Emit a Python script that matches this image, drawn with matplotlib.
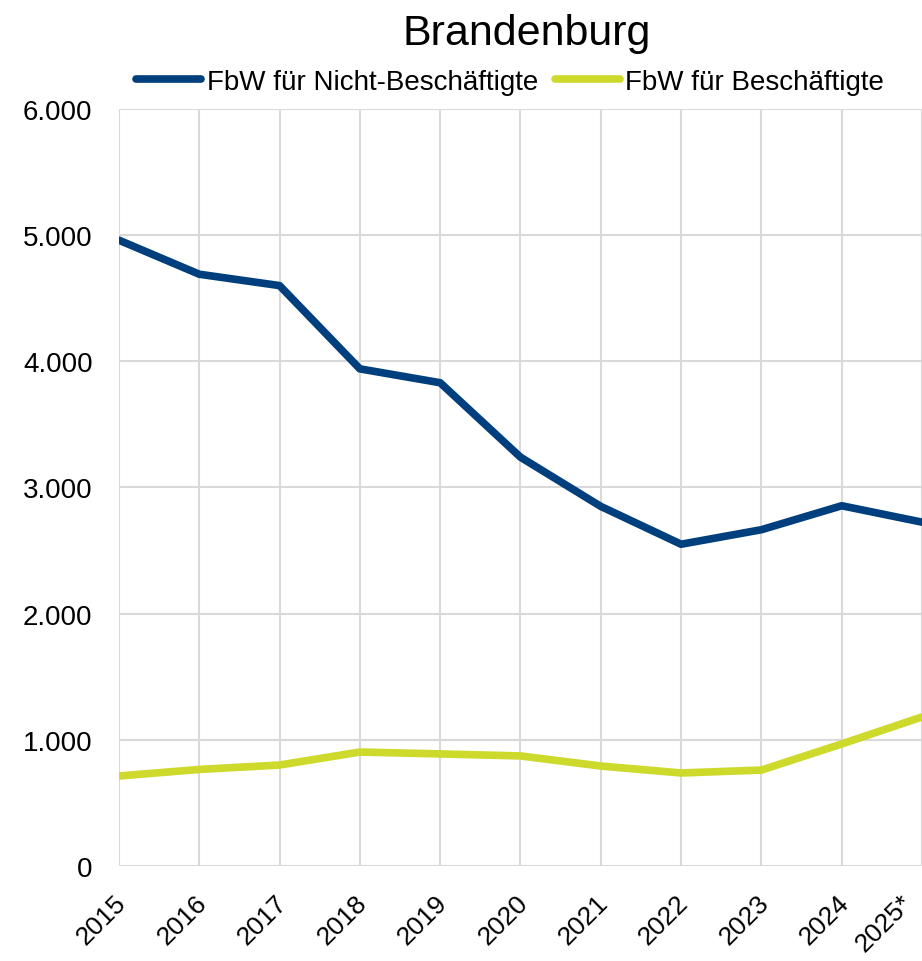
import matplotlib.pyplot as plt
from matplotlib.ticker import FuncFormatter
from matplotlib.transforms import ScaledTranslation

plt.rcParams["font.family"] = ["Liberation Sans", "DejaVu Sans"]

years = ["2015", "2016", "2017", "2018", "2019", "2020", "2021", "2022", "2023", "2024", "2025*"]
nicht_beschaeftigte = [4960, 4690, 4600, 3940, 3830, 3240, 2850, 2550, 2665, 2855, 2725]
beschaeftigte = [713, 765, 800, 903, 888, 872, 792, 737, 760, 967, 1181]

blue = "#003f7d"
green = "#cdd92b"

fig = plt.figure(figsize=(9.22, 9.62), dpi=100)
ax = fig.add_axes([0.129, 0.0988, 0.871, 0.7869])

x = list(range(len(years)))
ax.plot(x, nicht_beschaeftigte, color=blue, lw=5.5, solid_capstyle="round",
        label="FbW für Nicht-Beschäftigte")
ax.plot(x, beschaeftigte, color=green, lw=5.5, solid_capstyle="round",
        label="FbW für Beschäftigte")

ax.set_xlim(0, len(years) - 1)
ax.set_ylim(0, 6000)
ax.set_yticks(range(0, 6001, 1000))
ax.yaxis.set_major_formatter(FuncFormatter(lambda v, p: f"{int(v):,}".replace(",", ".")))
ax.set_xticks(x)
ax.set_xticklabels([])

# rotated year labels, placed by hand so the last one stays inside the figure
for i, yr in enumerate(years):
    dx = -5 if i < len(years) - 1 else -22
    off = ScaledTranslation(dx / 100, -24 / 100, fig.dpi_scale_trans)
    ax.text(i, 0, yr, transform=ax.get_xaxis_transform() + off, fontsize=19,
            rotation=45, ha="right", va="top", rotation_mode="anchor")

ax.grid(True, color="#d9d9d9", lw=1.5)
ax.set_axisbelow(True)
for s in ax.spines.values():
    s.set_visible(False)
ax.tick_params(length=0)
ax.tick_params(axis="y", labelsize=20, pad=19)

fig.text(0.5716, 0.965, "Brandenburg", fontsize=31, ha="center", va="center")
leg = ax.legend(loc="center", bbox_to_anchor=(0.487, 1.036), ncol=2, frameon=False,
                fontsize=20, handlelength=2.35, handletextpad=0.2, columnspacing=0.6, borderaxespad=0)
for h in leg.get_lines():
    h.set_solid_capstyle("round")

fig.savefig("out.png", dpi=100)
